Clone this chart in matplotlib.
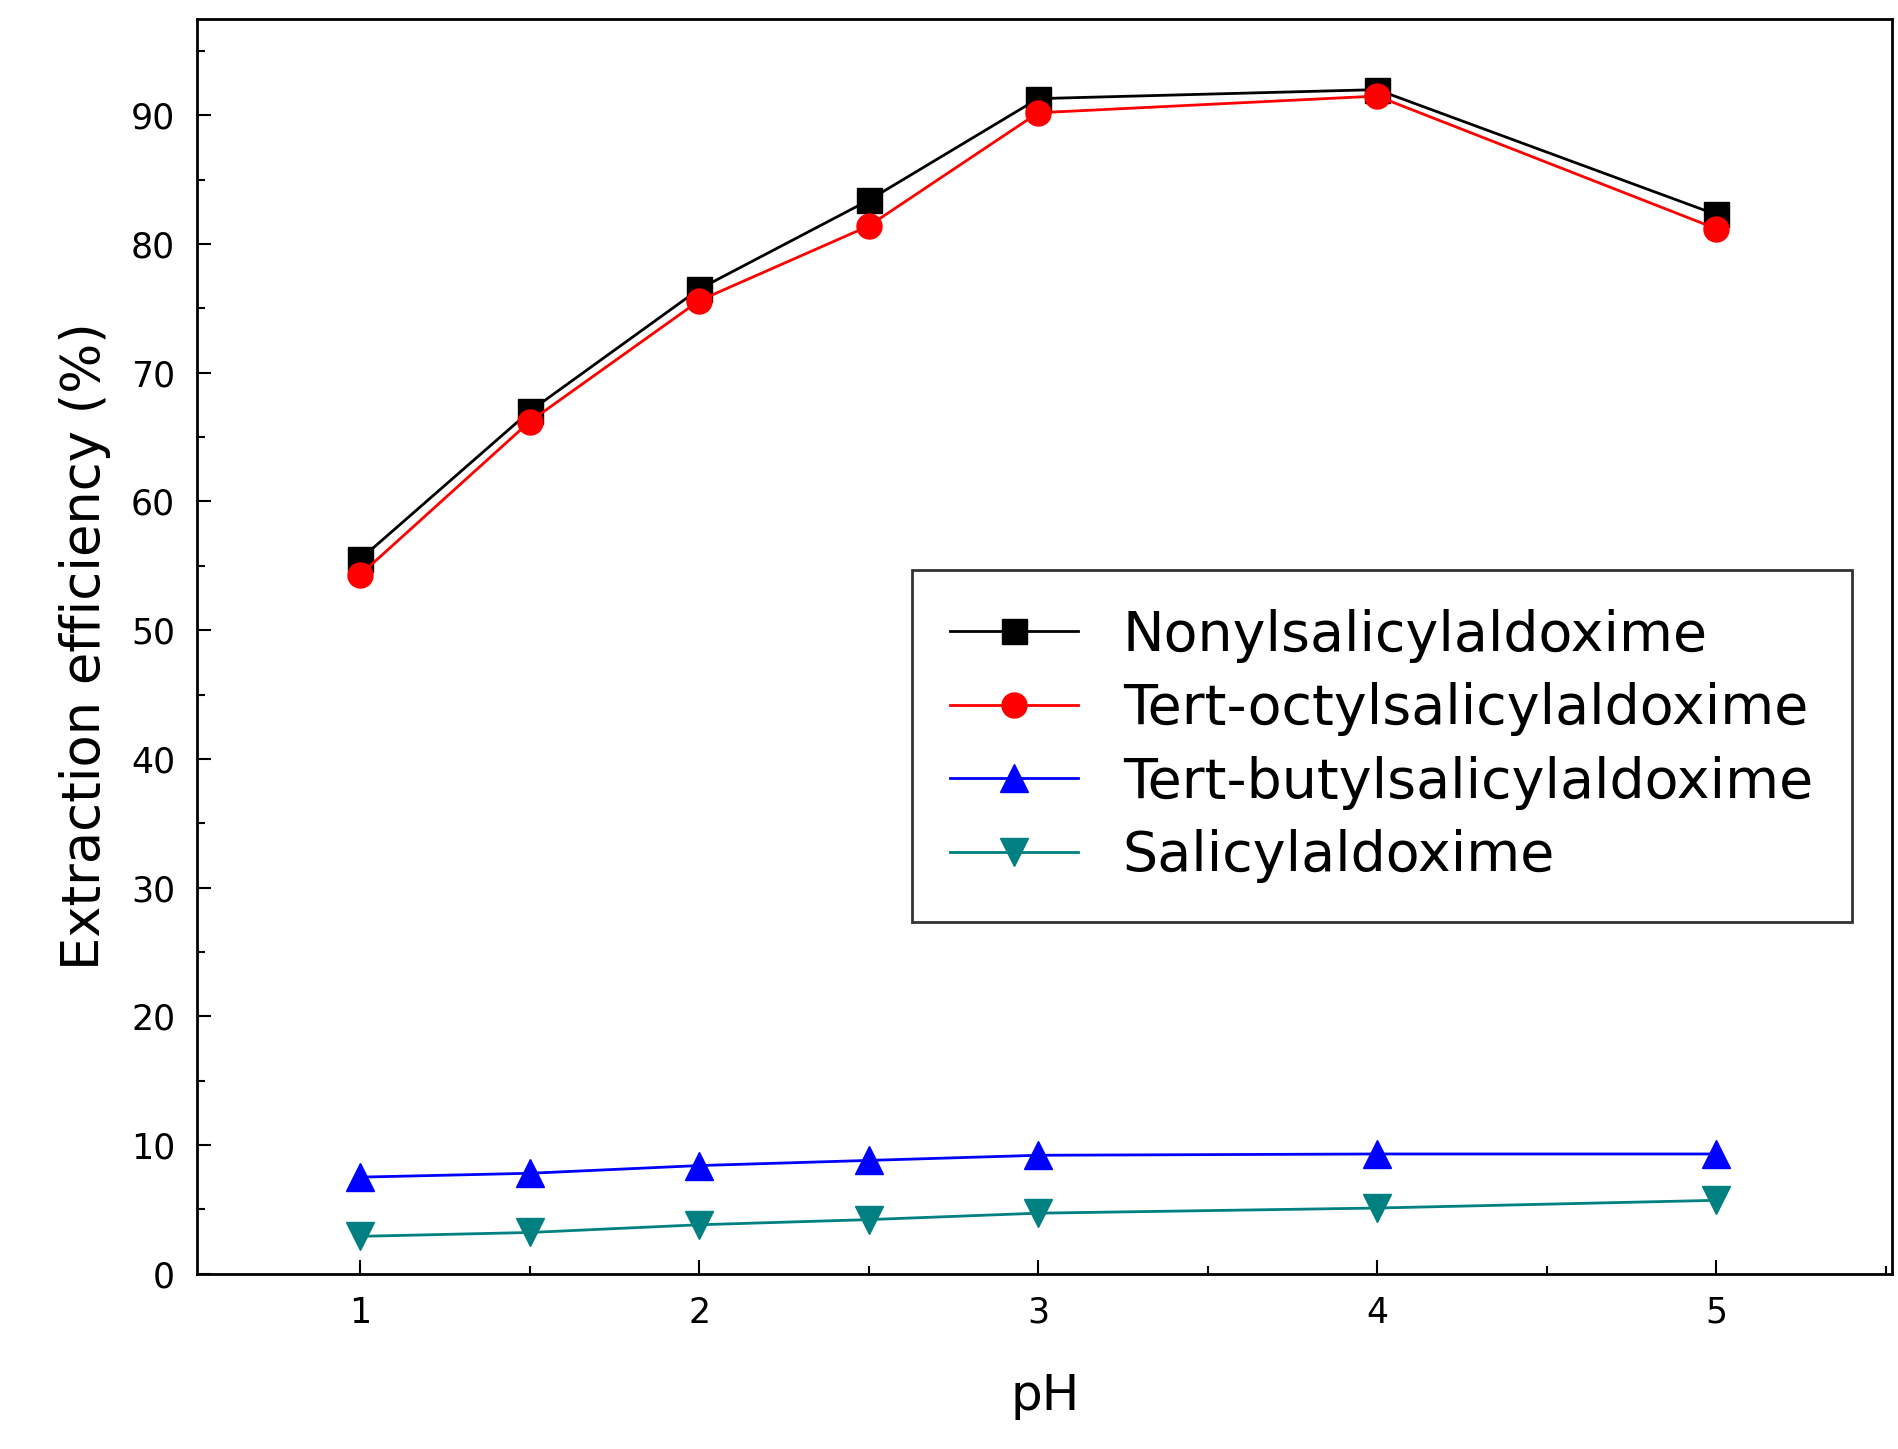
import numpy as np
import matplotlib.pyplot as plt
from matplotlib.ticker import MultipleLocator

ph = [1, 1.5, 2, 2.5, 3, 4, 5]
nonyl = [55.5, 67.0, 76.5, 83.4, 91.3, 92.0, 82.3]
octyl = [54.3, 66.2, 75.6, 81.4, 90.2, 91.5, 81.2]
butyl = [7.5, 7.8, 8.4, 8.8, 9.2, 9.3, 9.3]
salicyl = [2.9, 3.2, 3.8, 4.2, 4.7, 5.1, 5.7]

fig = plt.figure(figsize=(18.98, 14.49), dpi=100)
ax = fig.add_axes([0.104, 0.121, 0.893, 0.866])

ax.plot(ph, nonyl, '-s', color='black', lw=2, ms=18, label='Nonylsalicylaldoxime')
ax.plot(ph, octyl, '-o', color='red', mec='red', lw=2, ms=18, label='Tert-octylsalicylaldoxime')
ax.plot(ph, butyl, '-^', color='blue', lw=2, ms=20, label='Tert-butylsalicylaldoxime')
ax.plot(ph, salicyl, '-v', color='#008080', lw=2, ms=20, label='Salicylaldoxime')

ax.set_xlim(0.52, 5.52)
ax.set_ylim(0, 97.5)
ax.set_xticks([1, 2, 3, 4, 5])
ax.set_yticks(range(0, 100, 10))
ax.xaxis.set_minor_locator(MultipleLocator(0.5))
ax.yaxis.set_minor_locator(MultipleLocator(5))
ax.tick_params(which='both', direction='in', labelsize=25, width=1.5, pad=16)
ax.tick_params(which='major', length=10)
ax.tick_params(which='minor', length=6)
for s in ax.spines.values():
    s.set_linewidth(2)

ax.set_xlabel('pH', fontsize=36, labelpad=30)
ax.set_ylabel('Extraction efficiency (%)', fontsize=38, labelpad=14)

leg = ax.legend(loc='upper left', bbox_to_anchor=(0.405, 0.583), fontsize=40,
                frameon=True, fancybox=False, edgecolor='black', handlelength=2.3,
                borderpad=0.7, labelspacing=0.35)
leg.get_frame().set_linewidth(2)

plt.savefig('out.png', dpi=100)
